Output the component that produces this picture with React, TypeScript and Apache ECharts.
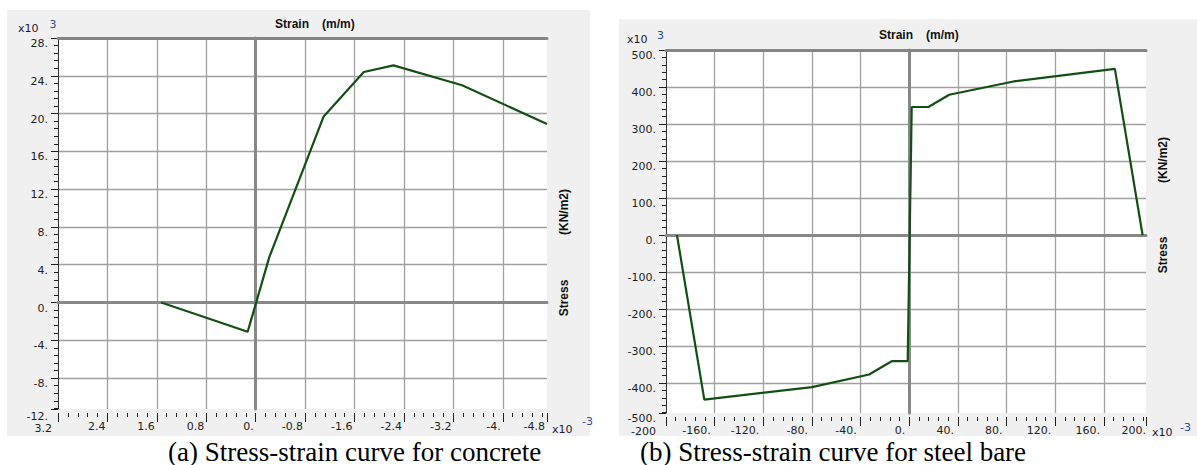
import React, { useEffect, useRef } from "react";
import * as echarts from "echarts";

// ---------- data ----------
// (a) concrete : strain (x10^-3, axis drawn reversed) vs stress (x10^3 kN/m2)
const CONCRETE_STRAIN = [1.53, 0.13, -0.22, -1.1, -1.75, -2.23, -3.34, -4.715];
const CONCRETE_STRESS = [0, -3.1, 4.8, 19.7, 24.4, 25.1, 23.0, 18.9];
// (b) steel bar
const STEEL_STRAIN = [-191, -168.5, -80, -33, -14.5, -1.3, 2, 15.7, 32.8, 85.7, 169, 191.8];
const STEEL_STRESS = [0, -445, -411, -377, -341, -341, 346, 346, 379, 415, 449, 0];

// axis extents / steps
const CONCRETE_X = { min: -4.715, max: 3.2, step: 0.8 };
const CONCRETE_Y = { min: -11.27, max: 28, step: 4 };
const STEEL_X = { min: -200, max: 194.6, step: 40 };
const STEEL_Y = { min: -481, max: 500, step: 100 };

// labels printed at the clipped axis ends in the reference
const CONCRETE_X_END_LABEL = "-4.8";
const CONCRETE_Y_END_LABEL = "-12.";
const STEEL_X_START_LABEL = "-200";
const STEEL_X_END_LABEL = "200.";
const STEEL_Y_END_LABEL = "-500.";

const TITLE_WORDS = ["Strain", "(m/m)"];
const YNAME_WORDS = ["Stress", "(KN/m2)"];
const CAPTIONS = ["(a) Stress-strain curve for concrete", "(b) Stress-strain curve for steel bare"];

// ---------- styles ----------
const FONT = "'DejaVu Sans', Verdana, sans-serif";
const TEXT = "#1e1e1e";
const TICK = "#1e1e1e";
const GRIDLINE = "#a0a0a0";
const ZERO = "#888888";
const LINE = "#134f13";
const PANEL = "#f0f0f0";
const BLUE = "#2a4a9a";

const near = (a: number, b: number, tol: number) => Math.abs(a - b) < tol;
function fmt(v: number): string {
  const r = Math.round(v * 1000) / 1000;
  if (Number.isInteger(r)) return `${r === 0 ? 0 : r}.`;
  return `${r}`;
}

function axisLabelBase(extra: any) {
  return {
    show: true,
    fontSize: 11,
    fontFamily: FONT,
    color: TEXT,
    lineHeight: 11,
    showMinLabel: true,
    showMaxLabel: true,
    ...extra,
  };
}

function mainX(gridIndex: number, r: any, inverse: boolean, formatter: any, padRight: number, rich: any) {
  return {
    type: "value",
    gridIndex,
    min: r.min,
    max: r.max,
    minInterval: r.step,
    maxInterval: r.step,
    inverse,
    position: "bottom",
    offset: 4,
    axisLine: { show: false, onZero: false },
    axisTick: { show: true, inside: false, length: 9, lineStyle: { color: TICK, width: 1 } },
    minorTick: { show: true, splitNumber: 5, length: 4, lineStyle: { color: TICK, width: 1 } },
    splitLine: { show: true, showMinLine: false, showMaxLine: false, lineStyle: { color: GRIDLINE, width: 1.3 } },
    axisLabel: axisLabelBase({
      margin: 8,
      align: "right",
      verticalAlign: "top",
      padding: [0, padRight, 0, 0],
      formatter,
      rich,
    }),
  };
}

function topX(gridIndex: number, r: any, inverse: boolean) {
  return {
    type: "value",
    gridIndex,
    min: r.min,
    max: r.max,
    inverse,
    position: "top",
    z: 1,
    axisLine: { show: true, onZero: false, lineStyle: { color: "#858585", width: 3 } },
    axisTick: { show: false },
    axisLabel: { show: false },
    splitLine: { show: false },
  };
}

function zeroX(gridIndex: number, r: any, inverse: boolean, yIdx: number) {
  return {
    type: "value",
    gridIndex,
    min: r.min,
    max: r.max,
    inverse,
    position: "bottom",
    z: 1,
    axisLine: { show: true, onZero: true, onZeroAxisIndex: yIdx, lineStyle: { color: ZERO, width: 3 } },
    axisTick: { show: false },
    axisLabel: { show: false },
    splitLine: { show: false },
  };
}

function mainY(gridIndex: number, r: any, formatter: any, rich: any) {
  return {
    type: "value",
    gridIndex,
    min: r.min,
    max: r.max,
    minInterval: r.step,
    maxInterval: r.step,
    position: "left",
    axisLine: { show: true, onZero: false, lineStyle: { color: "#333", width: 1 } },
    axisTick: { show: true, inside: false, length: 7, lineStyle: { color: TICK, width: 1 } },
    minorTick: { show: true, splitNumber: 5, length: 4, lineStyle: { color: TICK, width: 1 } },
    splitLine: { show: true, showMinLine: false, showMaxLine: false, lineStyle: { color: GRIDLINE, width: 1.3 } },
    axisLabel: axisLabelBase({
      margin: 10,
      align: "right",
      verticalAlign: "top",
      formatter,
      rich,
    }),
  };
}

function zeroY(gridIndex: number, r: any, xIdx: number) {
  return {
    type: "value",
    gridIndex,
    min: r.min,
    max: r.max,
    position: "left",
    z: 1,
    axisLine: { show: true, onZero: true, onZeroAxisIndex: xIdx, lineStyle: { color: ZERO, width: 3 } },
    axisTick: { show: false },
    axisLabel: { show: false },
    splitLine: { show: false },
  };
}

function txt(text: string, x: number, y: number, font: string, fill: string, align = "left", extra: any = {}, vAlign = "middle", lineHeight?: number) {
  const style: any = {
    text,
    fill,
    font,
    align,
    verticalAlign: vAlign,
    textAlign: align,
    textVerticalAlign: vAlign,
  };
  if (lineHeight) style.lineHeight = lineHeight;
  return { type: "text", x, y, z: 30, ...extra, style };
}

function buildOption() {
  const concreteData = CONCRETE_STRAIN.map((x, i) => [x, CONCRETE_STRESS[i]]);
  const steelData = STEEL_STRAIN.map((x, i) => [x, STEEL_STRESS[i]]);

  const cxFmt = (v: number) => {
    if (near(v, CONCRETE_X.min, 1e-6)) return CONCRETE_X_END_LABEL;
    if (near(v, CONCRETE_X.max, 1e-6)) return `{first|${fmt(v)}}`;
    return fmt(v);
  };
  const cyFmt = (v: number) => (near(v, CONCRETE_Y.min, 1e-6) ? `{low|${CONCRETE_Y_END_LABEL}}` : fmt(v));
  const sxFmt = (v: number) => {
    if (near(v, STEEL_X.min, 1e-6)) return `{first|${STEEL_X_START_LABEL}}`;
    if (near(v, STEEL_X.max, 1e-6)) return `{last|${STEEL_X_END_LABEL}}`;
    return fmt(v);
  };
  const syFmt = (v: number) => (near(v, STEEL_Y.min, 1e-6) ? STEEL_Y_END_LABEL : fmt(v));

  const boldTitle = "bold 12px 'Liberation Sans', Arial, sans-serif";
  const small = `11px ${FONT}`;
  const caption = "27px 'Liberation Serif', 'Times New Roman', serif";
  const rot = { rotation: Math.PI / 2 };

  const graphic: any[] = [
    { type: "rect", z: -5, shape: { x: 7, y: 10, width: 583, height: 426 }, style: { fill: PANEL } },
    { type: "rect", z: -5, shape: { x: 619, y: 19, width: 578, height: 418 }, style: { fill: PANEL } },
    { type: "rect", z: 20, shape: { x: 0, y: 436, width: 1197, height: 29 }, style: { fill: "#ffffff" } },
    // titles
    txt(TITLE_WORDS[0], 275, 24, boldTitle, "#111"),
    txt(TITLE_WORDS[1], 322, 24, boldTitle, "#111"),
    txt(TITLE_WORDS[0], 879, 34.5, boldTitle, "#111"),
    txt(TITLE_WORDS[1], 926, 34.5, boldTitle, "#111"),
    // vertical stress labels
    txt(YNAME_WORDS[0], 564, 298, boldTitle, "#111", "center", rot),
    txt(YNAME_WORDS[1], 564, 212, boldTitle, "#111", "center", rot),
    txt(YNAME_WORDS[0], 1163, 255, boldTitle, "#111", "center", rot),
    txt(YNAME_WORDS[1], 1163, 160, boldTitle, "#111", "center", rot),
    // multipliers
    txt("x10", 18, 28.5, small, "#1a1a3a"),
    txt("3", 49.5, 24.5, small, BLUE),
    txt("x10", 627, 39, small, "#1a1a3a"),
    txt("3", 657, 35, small, BLUE),
    txt("x10", 552, 429, small, "#1a1a3a"),
    txt("-3", 582, 421, small, BLUE),
    txt("x10", 1152, 432, small, "#1a1a3a"),
    txt("-3", 1180, 427, small, BLUE),
    // captions
    { ...txt(CAPTIONS[0], 168, 465, caption, "#000", "left", {}, "bottom", 27), z: 40 },
    { ...txt(CAPTIONS[1], 640, 465, caption, "#000", "left", {}, "bottom", 27), z: 40 },
  ];

  return {
    animation: false,
    backgroundColor: "#ffffff",
    grid: [
      { left: 58, top: 38, width: 489, height: 371, show: true, backgroundColor: "#ffffff", borderWidth: 0 },
      { left: 666, top: 50, width: 480, height: 363, show: true, backgroundColor: "#ffffff", borderWidth: 0 },
    ],
    xAxis: [
      mainX(0, CONCRETE_X, true, cxFmt, 2, { first: { padding: [3, 4, 0, 0] } }),
      topX(0, CONCRETE_X, true),
      zeroX(0, CONCRETE_X, true, 0),
      mainX(1, STEEL_X, false, sxFmt, 4, { first: { padding: [2, 6, 0, 0] }, last: { padding: [0, -4, 0, 0] } }),
      topX(1, STEEL_X, false),
      zeroX(1, STEEL_X, false, 2),
    ],
    yAxis: [
      mainY(0, CONCRETE_Y, cyFmt, { low: { padding: [3, 0, 0, 0] } }),
      zeroY(0, CONCRETE_Y, 0),
      mainY(1, STEEL_Y, syFmt, {}),
      zeroY(1, STEEL_Y, 3),
    ],
    series: [
      {
        type: "line",
        xAxisIndex: 0,
        yAxisIndex: 0,
        data: concreteData,
        symbol: "none",
        showSymbol: false,
        clip: true,
        z: 3,
        lineStyle: { color: LINE, width: 2.2 },
      },
      {
        type: "line",
        xAxisIndex: 3,
        yAxisIndex: 2,
        data: steelData,
        symbol: "none",
        showSymbol: false,
        clip: true,
        z: 3,
        lineStyle: { color: LINE, width: 2.2 },
      },
    ],
    graphic,
  };
}

export default function App() {
  const ref = useRef<HTMLDivElement>(null);
  useEffect(() => {
    document.body.style.margin = "0";
    if (!ref.current) return;
    const chart = echarts.init(ref.current, undefined, { renderer: "svg" });
    chart.setOption(buildOption() as any);
    return () => chart.dispose();
  }, []);
  return <div ref={ref} style={{ width: 1197, height: 465 }} />;
}
